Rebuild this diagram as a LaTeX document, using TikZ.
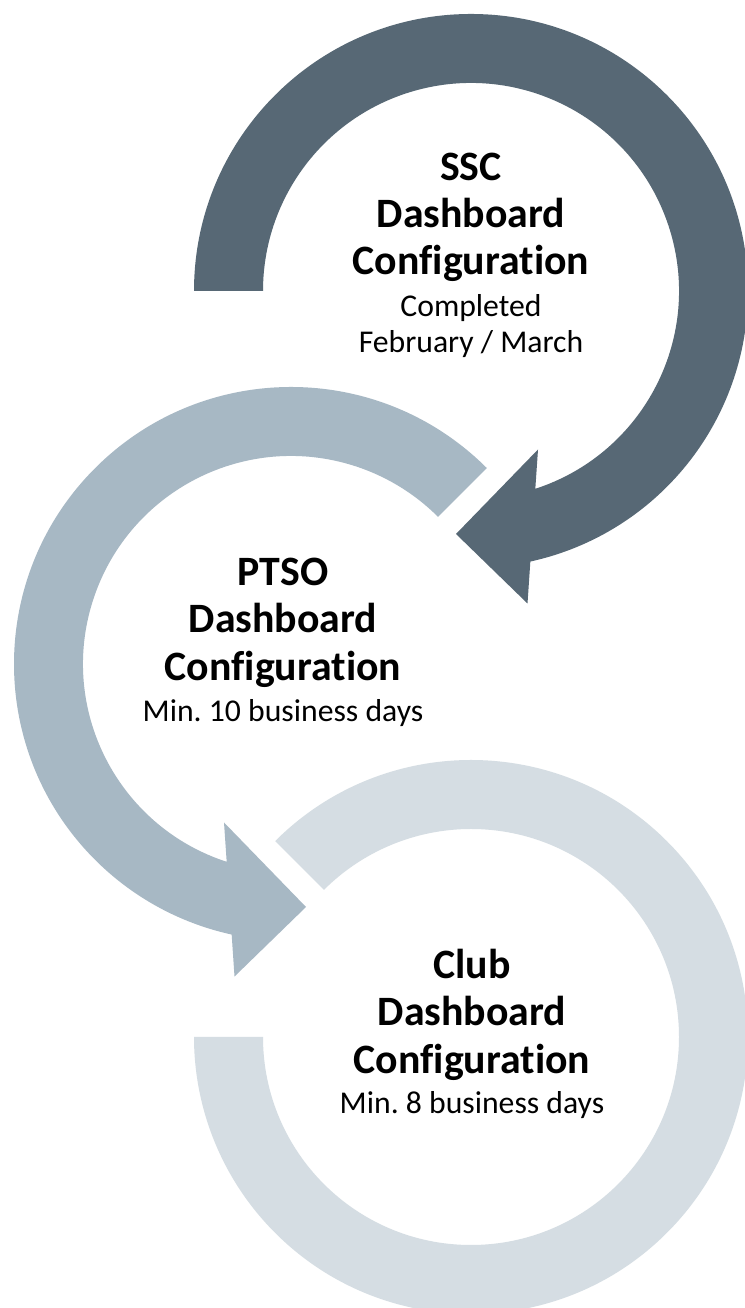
\documentclass[tikz,border=0pt]{standalone}
\usepackage{fontspec}
\setmainfont{Carlito}[Ligatures={NoCommon}]
\frenchspacing
\definecolor{arcdark}{HTML}{576875}
\definecolor{arcmid}{HTML}{A7B8C4}
\definecolor{arclight}{HTML}{D5DDE3}
\tikzset{
  titletext/.style={anchor=base, inner sep=0pt, font=\fontsize{41.8}{47}\selectfont\bfseries, text=black},
  subtext/.style={anchor=base, inner sep=0pt, font=\fontsize{31.7}{36}\selectfont, text=black},
}
\begin{document}
\begin{tikzpicture}[x=1pt,y=1pt]
\useasboundingbox (0,0) rectangle (744,1308);
\fill[white] (0,0) rectangle (744,1308);
% centres
\coordinate (c1) at (471,1017);
\coordinate (c2) at (291,644);
\coordinate (c3) at (471,271);
% arc 1 (dark): from left, clockwise over the top, arrow at bottom
\fill[arcdark] ([shift={(180:277)}]c1) arc[start angle=180, end angle=-77.63, radius=277]
  -- (527.5,704.5) -- (456,774) -- (538,858.5)
  -- ([shift={(-71.99:208)}]c1) arc[start angle=-71.99, end angle=180, radius=208] -- cycle;
% arc 2 (mid): from upper right, counter-clockwise, arrow at bottom
\fill[arcmid] ([shift={(45:277)}]c2) arc[start angle=45, end angle=257.63, radius=277]
  -- (234.5,331.5) -- (306,401) -- (224,485.5)
  -- ([shift={(251.99:208)}]c2) arc[start angle=251.99, end angle=45, radius=208] -- cycle;
% arc 3 (light): from upper left, clockwise, ends at left
\fill[arclight] ([shift={(135:277)}]c3) arc[start angle=135, end angle=-180, radius=277]
  -- ([shift={(180:208)}]c3) arc[start angle=-180, end angle=135, radius=208] -- cycle;
% texts
\node[titletext] (t1a) at (471,1127) {SSC};
\node[titletext] (t1b) at (471,1080) {Dashboard};
\node[titletext] (t1c) at (471,1033) {Configuration};
\node[subtext] (s1a) at (471,991) {Completed};
\node[subtext] (s1b) at (471,955) {February / March};
\node[titletext] (t2a) at (283,722) {PTSO};
\node[titletext] (t2b) at (283,675) {Dashboard};
\node[titletext] (t2c) at (283,627) {Configuration};
\node[subtext] (s2a) at (283,586) {Min. 10 business days};
\node[titletext] (t3a) at (472,329) {Club};
\node[titletext] (t3b) at (472,282) {Dashboard};
\node[titletext] (t3c) at (472,234) {Configuration};
\node[subtext] (s3a) at (472,194) {Min. 8 business days};
\end{tikzpicture}
\end{document}
